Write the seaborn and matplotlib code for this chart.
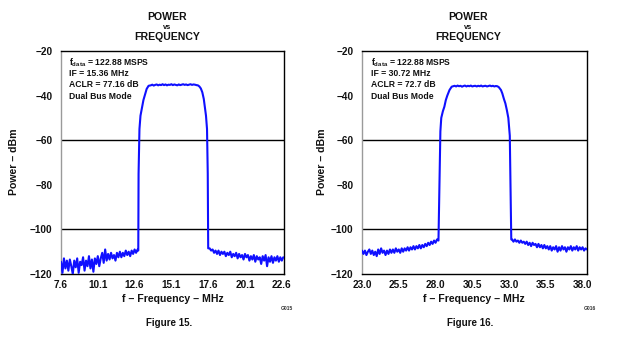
import numpy as np
import pandas as pd
import matplotlib
matplotlib.use("Agg")
import matplotlib.pyplot as plt
import seaborn as sns

# ---------------- data ----------------
# Figure 15 (IF = 15.36 MHz)
f15_floor1_freq = [7.6, 7.7, 7.8, 7.9, 8.0, 8.1, 8.2, 8.3, 8.4, 8.5, 8.6, 8.7, 8.8, 8.9,
                   9.0, 9.1, 9.2, 9.3, 9.4, 9.5, 9.6, 9.7, 9.8, 9.9, 10.0, 10.1, 10.2,
                   10.3, 10.4, 10.5, 10.6, 10.7, 10.8, 10.9, 11.0, 11.1, 11.2, 11.3,
                   11.4, 11.5, 11.6, 11.7, 11.8, 11.9, 12.0, 12.1, 12.2, 12.3, 12.4,
                   12.5, 12.6, 12.7, 12.8]
f15_floor1_dbm = [-114.5, -119.5, -113.0, -117.5, -114.0, -118.5, -113.5, -116.5, -120.0,
                  -114.0, -117.0, -113.0, -119.5, -114.5, -116.0, -112.5, -118.5, -114.0,
                  -116.5, -112.0, -117.5, -113.5, -119.0, -113.0, -115.5, -112.0, -116.5,
                  -113.0, -110.5, -115.0, -109.0, -114.0, -111.0, -113.5, -110.5, -113.0,
                  -111.5, -114.0, -110.5, -112.5, -110.0, -112.5, -110.5, -112.0, -109.5,
                  -111.5, -110.0, -112.0, -109.5, -111.0, -109.0, -110.5, -109.0]
f15_band_freq = [12.85, 12.87, 12.93, 13.0, 13.1, 13.2, 13.31, 13.42, 13.55,
                 13.7, 13.8, 13.9, 14.0, 14.1, 14.2, 14.3, 14.4, 14.5, 14.6, 14.7,
                 14.8, 14.9, 15.0, 15.1, 15.2, 15.3, 15.4, 15.5, 15.6, 15.7, 15.8,
                 15.9, 16.0, 16.1, 16.2, 16.3, 16.4, 16.5, 16.6, 16.7, 16.8,
                 16.9, 17.0, 17.1, 17.2, 17.3, 17.38, 17.45, 17.52, 17.57, 17.6]
f15_band_dbm = [-109.5, -75.0, -55.0, -49.0, -45.5, -42.0, -39.5, -37.0, -35.6,
                -35.4, -35.1, -35.5, -35.2, -35.0, -35.4, -35.1, -35.3, -34.9, -35.3,
                -35.0, -35.4, -35.1, -35.2, -34.9, -35.3, -35.0, -35.2, -35.4, -35.0,
                -35.3, -35.1, -34.9, -35.2, -35.0, -35.3, -35.1, -34.9, -35.2, -35.0,
                -35.1, -35.3,
                -35.4, -35.9, -36.8, -38.5, -41.5, -45.5, -49.0, -55.0, -75.0, -108.5]
f15_floor2_freq = [17.7, 17.8, 17.9, 18.0, 18.1, 18.2, 18.3, 18.4, 18.5, 18.6, 18.7,
                   18.8, 18.9, 19.0, 19.1, 19.2, 19.3, 19.4, 19.5, 19.6, 19.7, 19.8,
                   19.9, 20.0, 20.1, 20.2, 20.3, 20.4, 20.5, 20.6, 20.7, 20.8, 20.9,
                   21.0, 21.1, 21.2, 21.3, 21.4, 21.5, 21.6, 21.7, 21.8, 21.9, 22.0,
                   22.1, 22.2, 22.3, 22.4, 22.5, 22.6, 22.7]
f15_floor2_dbm = [-108.5, -109.5, -109.0, -110.5, -109.5, -111.0, -109.5, -111.5, -110.0,
                  -111.0, -110.0, -112.0, -110.5, -111.5, -110.0, -112.5, -111.0, -112.0,
                  -110.5, -113.0, -111.0, -112.5, -111.5, -113.5, -111.0, -112.5, -111.5,
                  -114.0, -112.0, -113.5, -111.5, -114.5, -112.0, -113.5, -112.5, -115.5,
                  -112.0, -114.0, -111.5, -116.5, -112.5, -114.5, -112.0, -115.0, -112.5,
                  -114.0, -112.0, -114.5, -112.5, -114.0, -112.5]

# Figure 16 (IF = 30.72 MHz)
f16_floor1_freq = [23.0, 23.1, 23.2, 23.3, 23.4, 23.5, 23.6, 23.7, 23.8, 23.9, 24.0,
                   24.1, 24.2, 24.3, 24.4, 24.5, 24.6, 24.7, 24.8, 24.9, 25.0, 25.1,
                   25.2, 25.3, 25.4, 25.5, 25.6, 25.7, 25.8, 25.9, 26.0, 26.1, 26.2,
                   26.3, 26.4, 26.5, 26.6, 26.7, 26.8, 26.9, 27.0, 27.1, 27.2, 27.3,
                   27.4, 27.5, 27.6, 27.7, 27.8, 27.9, 28.0, 28.1, 28.2]
f16_floor1_dbm = [-109.5, -111.0, -109.5, -111.5, -110.0, -109.0, -111.0, -109.5, -111.5,
                  -110.0, -112.0, -109.0, -111.0, -108.5, -110.5, -109.5, -111.5, -109.5,
                  -111.0, -109.0, -110.5, -109.0, -110.5, -108.5, -110.0, -109.0, -110.5,
                  -108.5, -110.0, -108.5, -109.5, -108.0, -109.5, -108.0, -109.0, -107.5,
                  -109.0, -107.5, -108.5, -107.0, -108.5, -107.0, -108.0, -106.5, -107.5,
                  -106.0, -107.0, -105.5, -106.5, -105.0, -106.0, -104.5, -105.0]
f16_band_freq = [28.27, 28.33, 28.39, 28.5, 28.6, 28.7, 28.8, 28.95, 29.1, 29.25,
                 29.3, 29.4, 29.5, 29.6, 29.7, 29.8, 29.9, 30.0, 30.1, 30.2, 30.3,
                 30.4, 30.5, 30.6, 30.7, 30.8, 30.9, 31.0, 31.1, 31.2, 31.3, 31.4,
                 31.5, 31.6, 31.7, 31.8, 31.9, 32.0, 32.1, 32.2,
                 32.3, 32.45, 32.54, 32.65, 32.75, 32.85, 32.95, 33.05, 33.1, 33.15]
f16_band_dbm = [-80.0, -56.0, -50.0, -47.0, -45.0, -42.0, -40.0, -37.5, -36.0, -35.7,
                -35.6, -35.9, -35.5, -35.8, -35.6, -36.0, -35.7, -35.5, -35.9, -35.6,
                -35.8, -35.5, -35.9, -35.7, -35.6, -35.9, -35.6, -35.8, -35.5, -35.9,
                -35.7, -35.6, -35.9, -35.7, -35.5, -35.8, -35.6, -35.9, -35.7, -35.8,
                -36.2, -37.5, -39.0, -41.5, -43.5, -46.5, -50.0, -58.0, -80.0, -104.5]
f16_floor2_freq = [33.2, 33.3, 33.4, 33.5, 33.6, 33.7, 33.8, 33.9, 34.0, 34.1, 34.2,
                   34.3, 34.4, 34.5, 34.6, 34.7, 34.8, 34.9, 35.0, 35.1, 35.2, 35.3,
                   35.4, 35.5, 35.6, 35.7, 35.8, 35.9, 36.0, 36.1, 36.2, 36.3, 36.4,
                   36.5, 36.6, 36.7, 36.8, 36.9, 37.0, 37.1, 37.2, 37.3, 37.4, 37.5,
                   37.6, 37.7, 37.8, 37.9, 38.0, 38.1, 38.2, 38.3]
f16_floor2_dbm = [-104.5, -105.5, -104.5, -105.5, -105.0, -106.0, -105.0, -106.0, -105.5,
                  -106.5, -105.5, -107.0, -106.0, -107.5, -106.0, -107.0, -106.5, -108.0,
                  -106.5, -108.0, -107.0, -108.5, -107.0, -108.5, -107.5, -109.0, -107.5,
                  -109.5, -108.0, -109.0, -107.5, -110.0, -108.0, -109.5, -107.5, -109.0,
                  -108.0, -110.0, -108.0, -109.0, -107.5, -109.5, -108.0, -109.0, -107.5,
                  -109.5, -108.0, -109.0, -108.0, -109.5, -108.5, -109.0]

f15_xticks = [7.6, 10.1, 12.6, 15.1, 17.6, 20.1, 22.6]
f16_xticks = [23.0, 25.5, 28.0, 30.5, 33.0, 35.5, 38.0]
y_ticks = [-20, -40, -60, -80, -100, -120]
grid_levels = [-60, -100]

f15_notes = ["IF = 15.36 MHz", "ACLR = 77.16 dB", "Dual Bus Mode"]
f16_notes = ["IF = 30.72 MHz", "ACLR = 72.7 dB", "Dual Bus Mode"]
fdata_note = r"$\mathbf{f_{data}}$ = 122.88 MSPS"

# ---------------- style ----------------
sns.set_style("white")
plt.rcParams["font.family"] = ["Liberation Sans", "DejaVu Sans"]
plt.rcParams["font.weight"] = "bold"
plt.rcParams["mathtext.fontset"] = "custom"
plt.rcParams["mathtext.bf"] = "Liberation Sans:bold"
plt.rcParams["mathtext.rm"] = "Liberation Sans:bold"
plt.rcParams["mathtext.it"] = "Liberation Sans:bold"

W, H = 620, 339
fig = plt.figure(figsize=(W / 100, H / 100), dpi=100)
fig.patch.set_facecolor("white")


def fx(px):
    return px / W


def fy(py):
    return 1 - py / H


BLUE = "#1010ff"
TXT = "#111111"


def panel(left_px, width_px, freq_parts, dbm_parts, xlim, xticks, notes, title_cx,
          label_cx, ylabel_x, fig_name, code_x, code):
    ax = fig.add_axes([fx(left_px), fy(274), width_px / W, 223 / H])
    for g in grid_levels:
        ax.axhline(g, color="black", linewidth=1.0, zorder=1)
    freq = sum(freq_parts, [])
    dbm = sum(dbm_parts, [])
    df = pd.DataFrame({"freq": freq, "dbm": dbm})
    sns.lineplot(data=df, x="freq", y="dbm", sort=False, estimator=None, ax=ax,
                 color=BLUE, linewidth=1.5, zorder=3)
    ax.set_xlim(*xlim)
    ax.set_ylim(-120, -20)
    ax.set_xticks(xticks)
    ax.set_xticklabels([f"{t:.1f}" for t in xticks])
    ax.set_yticks(y_ticks)
    ax.grid(False)
    ax.tick_params(axis="x", direction="in", length=3, width=1, color="black",
                   pad=4, labelsize=7.2, labelcolor=TXT)
    ax.tick_params(axis="y", length=0, pad=6, labelsize=7.2, labelcolor=TXT)
    for lab in ax.get_xticklabels() + ax.get_yticklabels():
        lab.set_fontweight("bold")
    for s in ["top", "right", "bottom"]:
        ax.spines[s].set_color("black")
        ax.spines[s].set_linewidth(1.0)
    ax.spines["left"].set_color("#9a9a9a")
    ax.spines["left"].set_linewidth(1.0)
    ax.set_xlabel("")
    ax.set_ylabel("")

    # annotations
    x0 = 0.038
    ax.text(x0, 0.949, fdata_note, transform=ax.transAxes, fontsize=6.2,
            fontweight="bold", va="center", ha="left", color=TXT)
    for i, t in enumerate(notes):
        ax.text(x0, [0.900, 0.851, 0.798][i], t, transform=ax.transAxes,
                fontsize=6.2, fontweight="bold", va="center", ha="left", color=TXT)

    # titles and labels
    fig.text(fx(title_cx), fy(17), "POWER", ha="center", va="center",
             fontsize=7.6, fontweight="bold", color=TXT)
    fig.text(fx(title_cx), fy(27.5), "vs", ha="center", va="center",
             fontsize=5.4, fontweight="bold", color=TXT)
    fig.text(fx(title_cx), fy(37), "FREQUENCY", ha="center", va="center",
             fontsize=7.6, fontweight="bold", color=TXT)
    fig.text(fx(label_cx), fy(299), "f \u2013 Frequency \u2013 MHz", ha="center",
             va="center", fontsize=7.6, fontweight="bold", color=TXT)
    fig.text(fx(ylabel_x), fy(162), "Power \u2013 dBm", ha="center", va="center",
             rotation=90, fontsize=7.6, fontweight="bold", color=TXT)
    fig.text(fx(label_cx - 3), fy(323), fig_name, ha="center", va="center",
             fontsize=7.0, fontweight="bold", color=TXT)
    fig.text(fx(code_x), fy(308), code, ha="center", va="center",
             fontsize=3.6, fontweight="bold", color="#333333")
    return ax


panel(61, 223,
      [f15_floor1_freq, f15_band_freq, f15_floor2_freq],
      [f15_floor1_dbm, f15_band_dbm, f15_floor2_dbm],
      (7.6, 22.75), f15_xticks, f15_notes, 167, 172.5, 14,
      "Figure 15.", 287, "G015")
panel(362, 225,
      [f16_floor1_freq, f16_band_freq, f16_floor2_freq],
      [f16_floor1_dbm, f16_band_dbm, f16_floor2_dbm],
      (23.0, 38.3), f16_xticks, f16_notes, 468.5, 473.5, 322,
      "Figure 16.", 590, "G016")

fig.savefig("out.png", dpi=100, facecolor="white")
